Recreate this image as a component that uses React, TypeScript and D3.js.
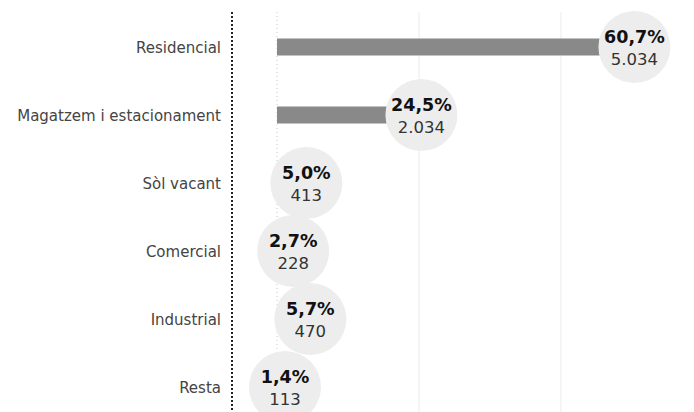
import React from 'react';
import * as d3 from 'd3';

const categories = ['Residencial', 'Magatzem i estacionament', 'Sòl vacant', 'Comercial', 'Industrial', 'Resta'];
const values = [5034, 2034, 413, 228, 470, 113];
const percents = ['60,7%', '24,5%', '5,0%', '2,7%', '5,7%', '1,4%'];
const valueLabels = ['5.034', '2.034', '413', '228', '470', '113'];
const gridTicks = [2000, 4000];

const W = 694;
const H = 412;
const font = '"DejaVu Sans", Verdana, sans-serif';

const App: React.FC = () => {
  const x = d3.scaleLinear().domain([0, 4000]).range([277, 561]);
  const y = d3.scaleBand<string>().domain(categories).range([13, 421]).padding(0);
  const cy = (c: string) => (y(c) ?? 0) + y.bandwidth() / 2;
  const barH = 17;
  const r = 36;

  return (
    <div style={{ position: 'fixed', left: 0, top: 0 }}>
      <svg width={W} height={H} style={{ display: 'block', background: '#fff' }}>
        {/* grid */}
        {gridTicks.map(t => (
          <line key={t} x1={x(t)} x2={x(t)} y1={12} y2={H} stroke="#ebebeb" strokeWidth={1} />
        ))}
        <line x1={x(0)} x2={x(0)} y1={12} y2={H} stroke="#c8c8c8" strokeWidth={1} strokeDasharray="1,3" />
        <line x1={232} x2={232} y1={12} y2={H} stroke="#222" strokeWidth={2} strokeDasharray="2,2" />

        {/* labels */}
        {categories.map(c => (
          <text key={c} x={221} y={cy(c) + 6} textAnchor="end" fontFamily={font} fontSize={15} fill="#444">
            {c}
          </text>
        ))}

        {/* bars */}
        {categories.map((c, i) => (
          <rect key={c} x={x(0)} y={cy(c) - barH / 2} width={x(values[i]) - x(0)} height={barH} fill="#898989" />
        ))}

        {/* bubbles */}
        {categories.map((c, i) => (
          <g key={c} transform={`translate(${x(values[i])},${cy(c)})`}>
            <circle r={r} fill="#ededed" />
            <text y={-4} textAnchor="middle" fontFamily={font} fontSize={17.5} fontWeight="bold" fill="#111">
              {percents[i]}
            </text>
            <text y={18} textAnchor="middle" fontFamily={font} fontSize={16.5} fill="#333">
              {valueLabels[i]}
            </text>
          </g>
        ))}
      </svg>
    </div>
  );
};

export default App;
